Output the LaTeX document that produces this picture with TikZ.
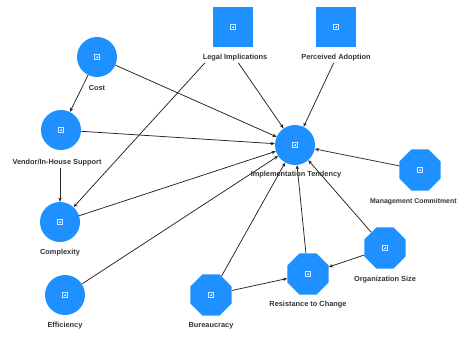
\documentclass[tikz,border=0pt]{standalone}
\usepackage{fontspec}
\setmainfont{Liberation Sans}
\usetikzlibrary{shapes.geometric,arrows.meta}
\definecolor{nodeblue}{HTML}{1E90FF}
\definecolor{labelgray}{HTML}{333333}
\begin{document}
\begin{tikzpicture}[x=0.03cm,y=-0.03cm,
    icon/.style={path picture={
      \draw[white!80!nodeblue,line width=0.3pt]
        ([shift={(-2pt,-2pt)}]path picture bounding box.center) rectangle
        ([shift={(2pt,2pt)}]path picture bounding box.center);
      \draw[white!80!nodeblue,line width=0.3pt]
        ([xshift=-1.2pt]path picture bounding box.center) --
        ([xshift=1.2pt]path picture bounding box.center)
        ([yshift=-1.2pt]path picture bounding box.center) --
        ([yshift=1.2pt]path picture bounding box.center);}},
    var/.style={circle,fill=nodeblue,minimum size=1.2cm,inner sep=0pt,icon},
    oct/.style={regular polygon,regular polygon sides=8,fill=nodeblue,
      minimum size=1.34cm,inner sep=0pt,icon},
    box/.style={rectangle,fill=nodeblue,minimum size=1.2cm,inner sep=0pt,icon},
    lbl/.style={font=\fontsize{6.3}{7}\selectfont\bfseries,text=labelgray,inner sep=1pt},
    link/.style={draw=black!85,line width=0.65pt,-{Stealth[length=3.5pt,width=3pt]}}]
  \useasboundingbox (0,0) rectangle (459,338);
  % shapes
  \node[var] (cost) at (97,57) {};
  \node[var] (vendor) at (61,130) {};
  \node[var] (cmplx) at (60,222) {};
  \node[var] (effic) at (65,295) {};
  \node[var] (impl) at (295,145) {};
  \node[box] (legal) at (233,27) {};
  \node[box] (percv) at (336,27) {};
  \node[oct] (bureau) at (211,295) {};
  \node[oct] (resist) at (308,274) {};
  \node[oct] (orgsize) at (385,248) {};
  \node[oct] (mgmt) at (420,170) {};
  % labels
  \node[lbl] (costL) at (97,88) {Cost};
  \node[lbl] (vendorL) at (57,163) {Vendor/In-House Support};
  \node[lbl] (cmplxL) at (60,253) {Complexity};
  \node[lbl] (efficL) at (65,326) {Efficiency};
  \node[lbl] (implL) at (296,175) {Implementation Tendency};
  \node[lbl] (legalL) at (235,58) {Legal Implications};
  \node[lbl] (percvL) at (336,58) {Perceived Adoption};
  \node[lbl] (bureauL) at (211,326) {Bureaucracy};
  \node[lbl] (resistL) at (308,305) {Resistance to Change};
  \node[lbl] (orgsizeL) at (385,280) {Organization Size};
  \node[lbl,anchor=east,font=\fontsize{5.9}{7}\selectfont\bfseries] (mgmtL) at (458,202) {Management Commitment};
  % connectors
  \draw[link] (cost) -- (vendor);
  \draw[link] (cost) -- (impl);
  \draw[link] (vendor) -- (impl);
  \draw[link] (vendorL.south -| cmplx) -- (cmplx);
  \draw[link] ([xshift=3pt]legalL.south west) -- (cmplx);
  \draw[link] (legalL) -- (impl);
  \draw[link] (percvL) -- (impl);
  \draw[link] (cmplx) -- (impl);
  \draw[link] (effic) -- (impl);
  \draw[link] (bureau) -- (impl);
  \draw[link] (bureau) -- (resist);
  \draw[link] (resist) -- (impl);
  \draw[link] (orgsize) -- (impl);
  \draw[link] (orgsize) -- (resist);
  \draw[link] (mgmt) -- (impl);
\end{tikzpicture}
\end{document}
